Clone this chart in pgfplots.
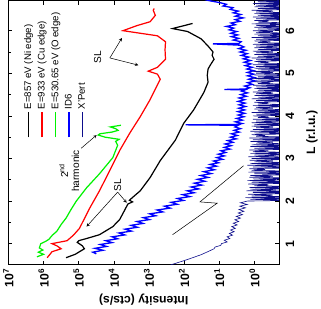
\documentclass[border=0pt]{standalone}
\usepackage{pgfplots}
\pgfplotsset{compat=1.18}
\usepackage{fontspec}
\setmainfont{Liberation Sans}
\definecolor{xpert}{rgb}{0.05,0.05,0.55}
\definecolor{idsix}{rgb}{0,0,1}
\definecolor{ogreen}{rgb}{0,0.95,0}
\begin{document}
\begin{tikzpicture}[rotate=90,transform shape]
\begin{axis}[
  scale only axis, width=261pt, height=267pt,
  xmin=0.5, xmax=6.71, ymin=0.2, ymax=1e7,
  ymode=log, log basis y=10,
  xtick={1,2,3,4,5,6}, minor x tick num=1,
  ytick={1,10,100,1000,10000,100000,1000000,10000000},
  tick align=inside,
  major tick length=4pt, minor tick length=2.2pt,
  axis line style={line width=0.9pt},
  every tick/.style={black, line width=0.6pt},
  xlabel={L (r.l.u.)}, ylabel={Intensity (cts/s)},
  label style={font=\fontsize{12}{14}\selectfont\bfseries},
  tick label style={font=\fontsize{12}{14}\selectfont\bfseries},
  xticklabel style={yshift=-3pt},
  xlabel style={yshift=-5pt},
  /pgf/number format/assume math mode=true,
  yticklabel={10\textsuperscript{\pgfmathprintnumber[fixed,precision=0]{\tick}}},
  legend style={at={(0.479,0.95)}, anchor=north west, draw=none, fill=none,
    font=\fontsize{9.5}{11}\selectfont, inner sep=0pt, row sep=1pt},
  legend cell align=left,
  legend image code/.code={\draw[#1] (0pt,0pt) -- (25pt,0pt);},
]
% E=857 eV (Ni edge)
\addplot[black, line width=1.2pt] coordinates {
(0.67,2.29e5) (0.75,1.26e5) (0.88,6.9e4) (0.95,7.9e4) (1.03,1.10e5) (1.07,1.0e5)
(1.12,6.0e4) (1.21,2.57e4) (1.40,1.07e4) (1.57,6.8e3) (1.75,5.2e3) (1.93,4.0e3)
(1.98,2.95e3) (2.02,3.6e3) (2.10,2.8e3) (2.24,1.78e3) (2.55,933) (2.95,479)
(3.43,178) (3.83,102) (4.14,53.7) (4.55,27.5) (4.79,20.9) (4.95,22) (5.10,20.9)
(5.20,17.8) (5.33,14.1) (5.42,16) (5.50,15.1) (5.64,20.9) (5.81,33.1) (5.98,79.4)
(6.05,214) (6.17,57.5)
};
\addlegendentry{E=857 eV (Ni edge)}
% E=933 eV (Cu edge)
\addplot[red, line width=1.2pt] coordinates {
(0.67,7.9e5) (0.81,5.75e5) (0.88,3.16e5) (0.95,4.2e5) (1.00,5.75e5) (1.07,2.14e5)
(1.20,1.41e5) (1.36,9.5e4) (1.83,4.9e4) (2.24,2.57e4) (2.71,1.32e4) (3.19,6.8e3)
(3.60,3.5e3) (3.98,1.78e3) (4.38,933) (4.86,479) (4.98,575) (5.05,1.05e3)
(5.14,575) (5.33,339) (5.55,350) (5.74,339) (5.88,575) (6.00,5.5e3) (6.12,2.19e3)
(6.21,933) (6.36,661) (6.48,759) (6.52,708)
};
\addlegendentry{E=933 eV (Cu edge)}
% E=530.65 eV (O edge)
\addplot[ogreen, line width=1.2pt] coordinates {
(0.69,1.55e6) (0.75,1.0e6) (0.80,1.41e6) (0.85,1.05e6) (0.90,1.32e6) (1.00,1.2e6)
(1.05,8.9e5) (1.10,7.1e5) (1.20,5.6e5) (1.29,4.2e5) (1.45,3.16e5) (1.60,2.29e5)
(1.80,1.66e5) (2.00,1.17e5) (2.31,6.0e4) (2.64,2.57e4) (3.02,1.07e4) (3.31,7.8e3)
(3.40,8.9e3) (3.45,7.1e3) (3.50,1.78e4) (3.55,2.8e4) (3.58,2.5e4) (3.62,1.12e4)
(3.66,7.6e3) (3.70,8.9e3) (3.74,1.26e4) (3.78,6.3e3)
};
\addlegendentry{E=530.65 eV (O edge)}
% ID6
\addplot[idsix, line width=1.3pt] coordinates {
(0.76,3.16e4) (0.80,3.98e4) (0.845,2.04e4) (0.89,3.47e4) (0.935,1.62e4) (0.98,2.45e4)
(1.025,1.12e4) (1.07,1.70e4) (1.115,7.8e3) (1.16,1.12e4) (1.205,4.9e3) (1.25,7.2e3)
(1.295,3.16e3) (1.34,4.8e3) (1.385,2.14e3) (1.43,3.24e3) (1.475,1.48e3) (1.52,2.19e3)
(1.565,977) (1.61,1.45e3) (1.655,646) (1.70,955) (1.745,407) (1.79,589)
(1.835,251) (1.88,363) (1.925,158) (1.97,234) (2.015,105) (2.06,155)
(2.105,69) (2.15,110) (2.195,52) (2.24,81) (2.285,39) (2.33,63)
(2.375,31.6) (2.42,51) (2.465,25.7) (2.51,41.7) (2.555,20.9) (2.60,33.9)
(2.645,17) (2.69,27.5) (2.735,13.8) (2.78,21.4)
(2.82,12.0) (2.86,18.2) (2.90,10.5) (2.94,14.5) (2.98,8.1) (3.02,11.7)
(3.06,7.2) (3.10,10.7) (3.14,6.6) (3.18,8.9) (3.22,5.0) (3.26,7.2)
(3.30,4.6) (3.34,6.8) (3.38,4.1) (3.42,5.75) (3.46,3.3) (3.50,4.8)
(3.54,3.1) (3.58,4.5) (3.62,2.7) (3.66,3.8) (3.70,2.5) (3.74,3.6)
(3.78,2.9) (3.79,91) (3.80,2.9) (3.82,2.24) (3.86,3.5) (3.90,2.2)
(3.94,3.2) (3.98,2.0) (4.02,2.9) (4.06,1.9) (4.10,2.95) (4.14,1.9)
(4.18,2.8) (4.22,1.8) (4.26,2.75) (4.30,1.86) (4.34,2.9) (4.38,1.9)
(4.42,2.75) (4.46,1.7) (4.50,2.45) (4.54,1.58) (4.58,2.3) (4.61,1.86)
(4.62,7.2) (4.63,1.82) (4.66,1.35) (4.70,1.9) (4.74,1.15) (4.78,1.55)
(4.82,0.95) (4.86,1.46) (4.90,1.0) (4.94,1.57) (4.98,1.05) (5.02,1.58)
(5.06,1.05) (5.10,1.64) (5.14,1.15) (5.18,1.82) (5.22,1.26) (5.26,1.95)
(5.30,1.3) (5.34,2.07) (5.38,1.45) (5.42,2.34) (5.46,1.62) (5.50,2.57)
(5.54,1.74) (5.58,2.8) (5.62,2.0) (5.66,2.6) (5.69,15.1) (5.70,2.8)
(5.74,2.4) (5.78,4.0) (5.82,2.8) (5.86,4.5) (5.90,3.0) (5.94,4.7)
(5.98,3.2) (6.02,5.2) (6.06,3.9) (6.10,6.3) (6.14,3.5) (6.18,4.6)
(6.22,2.6) (6.26,3.5) (6.30,2.1) (6.34,3.5) (6.38,2.45) (6.42,4.0)
(6.46,2.9) (6.50,4.9) (6.54,4.1) (6.58,7.8) (6.62,6.3) (6.66,9.8)
(6.71,20.9) (6.76,33)
};
\addlegendentry{ID6}
% X'Pert
\addplot[xpert, line width=0.6pt] coordinates {
(0.50,245) (0.55,158) (0.60,102) (0.67,57.5) (0.74,33.1) (0.81,21.4) (0.88,14.1)
(0.92,13.2) (0.96,9.1) (1.00,8.7) (1.04,6.0) (1.08,7.2) (1.12,5.0) (1.16,6.0)
(1.20,4.2) (1.24,5.2) (1.28,3.8) (1.32,4.8) (1.36,3.5) (1.40,4.4) (1.44,3.1)
(1.48,4.0) (1.52,2.8) (1.56,3.6) (1.60,2.5) (1.64,3.3) (1.68,2.2) (1.72,2.9)
(1.76,2.0) (1.80,2.75) (1.84,1.8) (1.88,2.6) (1.92,1.6) (1.96,2.5)
(2.00,1.6) (2.02,0.05) (2.04,1.3) (2.06,0.1) (2.08,1.8) (2.10,0.05) (2.12,1.2) (2.14,0.3) (2.16,1.5) (2.18,0.05)
(2.20,1.1) (2.22,0.05) (2.24,1.7) (2.26,0.2) (2.28,1.3) (2.30,0.05) (2.32,1.4) (2.34,0.05) (2.36,1.0) (2.38,0.4)
(2.40,1.5) (2.42,0.05) (2.44,1.2) (2.46,0.05) (2.48,1.6) (2.50,0.15) (2.52,1.1) (2.54,0.05) (2.56,1.4) (2.58,0.3)
(2.60,1.3) (2.62,0.05) (2.64,1.0) (2.66,0.05) (2.68,1.5) (2.70,0.05) (2.72,1.2) (2.74,0.5) (2.76,1.4) (2.78,0.05)
(2.80,1.1) (2.82,0.1) (2.84,1.6) (2.86,0.05) (2.88,1.3) (2.90,0.05) (2.92,1.0) (2.94,0.3) (2.96,1.4) (2.98,0.05)
(3.00,1.2) (3.02,0.05) (3.04,1.5) (3.06,0.2) (3.08,1.0) (3.10,0.05) (3.12,1.3) (3.14,0.05) (3.16,1.1) (3.18,0.4)
(3.20,1.4) (3.22,0.05) (3.24,1.0) (3.26,0.05) (3.28,1.3) (3.30,0.1) (3.32,1.2) (3.34,0.05) (3.36,0.9) (3.38,0.3)
(3.40,1.3) (3.42,0.05) (3.44,1.1) (3.46,0.05) (3.48,1.4) (3.50,0.05) (3.52,0.9) (3.54,0.5) (3.56,1.2) (3.58,0.05)
(3.60,1.0) (3.62,0.1) (3.64,1.3) (3.66,0.05) (3.68,1.1) (3.70,0.05) (3.72,0.9) (3.74,0.3) (3.76,1.2) (3.78,0.05)
(3.80,1.0) (3.82,0.05) (3.84,1.2) (3.86,0.2) (3.88,0.9) (3.90,0.05) (3.92,1.1) (3.94,0.05) (3.96,0.8) (3.98,0.4)
(4.00,1.1) (4.02,0.05) (4.04,0.9) (4.06,0.05) (4.08,1.2) (4.10,0.1) (4.12,0.8) (4.14,0.05) (4.16,1.0) (4.18,0.3)
(4.20,0.9) (4.22,0.05) (4.24,1.1) (4.26,0.05) (4.28,0.8) (4.30,0.4) (4.32,1.0) (4.34,0.05) (4.36,0.9) (4.38,0.05)
(4.40,1.2) (4.42,0.2) (4.44,0.8) (4.46,0.05) (4.48,1.0) (4.50,0.05) (4.52,0.9) (4.54,0.3) (4.56,1.1) (4.58,0.05)
(4.60,0.8) (4.62,0.05) (4.64,1.0) (4.66,0.1) (4.68,0.9) (4.70,0.05) (4.72,1.1) (4.74,0.05) (4.76,0.8) (4.78,0.35)
(4.80,1.0) (4.82,0.05) (4.84,0.9) (4.86,0.05) (4.88,1.2) (4.90,0.2) (4.92,0.8) (4.94,0.05) (4.96,1.0) (4.98,0.05)
(5.00,0.9) (5.02,0.3) (5.04,1.1) (5.06,0.05) (5.08,0.8) (5.10,0.05) (5.12,1.0) (5.14,0.1) (5.16,0.9) (5.18,0.05)
(5.20,1.1) (5.22,0.05) (5.24,0.8) (5.26,0.4) (5.28,1.0) (5.30,0.05) (5.32,0.9) (5.34,0.05) (5.36,1.2) (5.38,0.15)
(5.40,0.8) (5.42,0.05) (5.44,1.0) (5.46,0.05) (5.48,0.9) (5.50,0.3) (5.52,1.1) (5.54,0.05) (5.56,0.8) (5.58,0.05)
(5.60,1.0) (5.62,0.2) (5.64,0.9) (5.66,0.05) (5.68,1.1) (5.70,0.05) (5.72,0.8) (5.74,0.35) (5.76,1.0) (5.78,0.05)
(5.80,0.9) (5.82,0.05) (5.84,1.2) (5.86,0.1) (5.88,0.8) (5.90,0.05) (5.92,1.0) (5.94,0.05) (5.96,0.9) (5.98,0.3)
(6.00,1.1) (6.02,0.05) (6.04,0.8) (6.06,0.05) (6.08,1.0) (6.10,0.2) (6.12,0.9) (6.14,0.05) (6.16,1.2) (6.18,0.05)
(6.20,0.8) (6.22,0.4) (6.24,1.0) (6.26,0.05) (6.28,0.9) (6.30,0.05) (6.32,1.1) (6.34,0.1) (6.36,0.8) (6.38,0.05)
(6.40,1.0) (6.42,0.05) (6.44,0.9) (6.46,0.3) (6.48,1.2) (6.50,0.05) (6.52,0.8) (6.54,0.05) (6.56,1.0) (6.58,0.15)
(6.60,0.9) (6.62,0.05) (6.64,1.1) (6.66,0.05) (6.68,0.8) (6.70,0.05) (6.72,1.0)
};
\addlegendentry{X'Pert}
% annotations
\draw[black, line width=0.5pt] (axis cs:1.21,214) -- (axis cs:1.95,11.5) -- (axis cs:1.98,35.5) -- (axis cs:2.83,2.04);
\node[font=\fontsize{10}{12}\selectfont] at (axis cs:5.38,2.9e4) {SL};
\draw[-stealth, line width=0.5pt] (axis cs:5.36,1.3e4) -- (axis cs:5.83,5.9e3);
\draw[-stealth, line width=0.5pt] (axis cs:5.36,1.3e4) -- (axis cs:5.19,2.0e3);
\node[font=\fontsize{10}{12}\selectfont] at (axis cs:2.38,7.8e3) {SL};
\draw[-stealth, line width=0.5pt] (axis cs:2.21,7.8e3) -- (axis cs:1.96,4.3e3);
\draw[-stealth, line width=0.5pt] (axis cs:2.21,7.8e3) -- (axis cs:1.40,6.0e4);
\node[font=\fontsize{10}{11}\selectfont, align=center] at (axis cs:2.71,1.86e5) {2\textsuperscript{nd}\\harmonic};
\draw[-stealth, line width=0.5pt] (axis cs:3.24,8.5e4) -- (axis cs:3.55,3.1e4);
\end{axis}
\end{tikzpicture}
\end{document}
